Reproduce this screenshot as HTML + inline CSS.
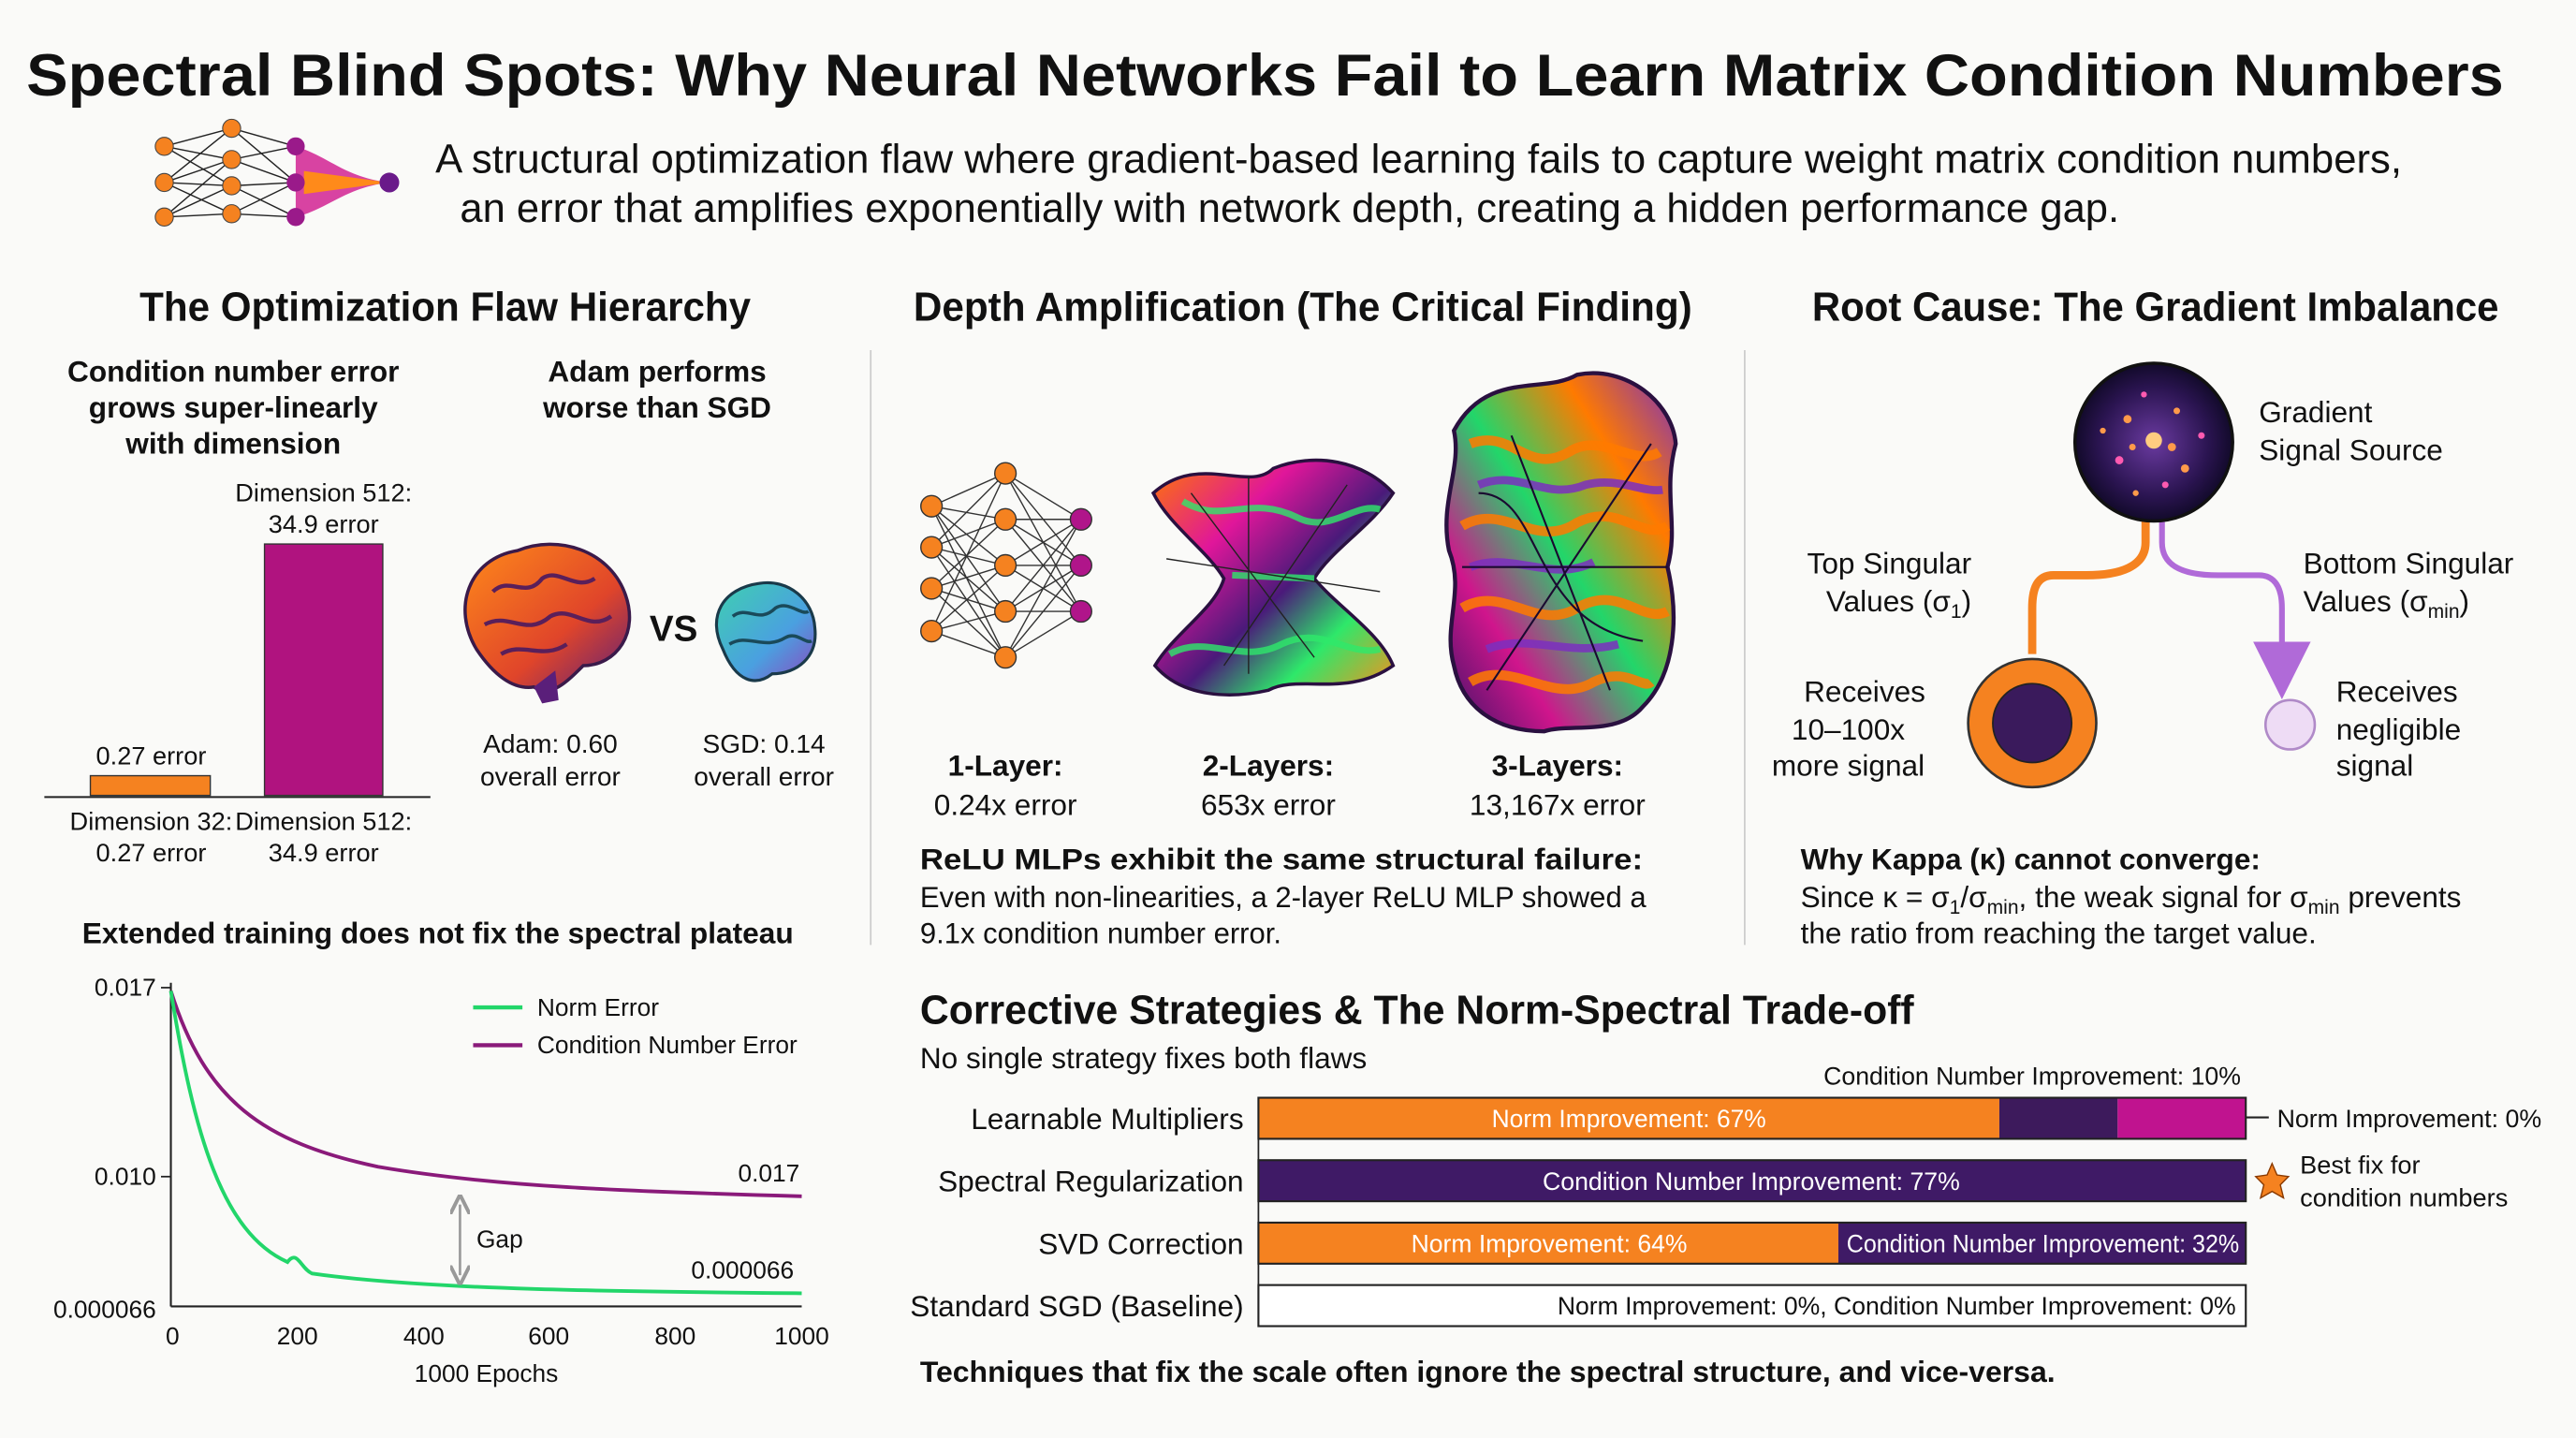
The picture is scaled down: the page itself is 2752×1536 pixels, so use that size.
<!DOCTYPE html>
<html><head><meta charset="utf-8"><style>
html,body{margin:0;padding:0;background:#fafaf8;}
svg{display:block;}
text{font-family:"Liberation Sans",Arial,sans-serif;fill:#111;}
text.w{fill:#fff;}
.b{font-weight:bold;}
</style></head><body>
<svg width="2752" height="1536" viewBox="0 0 1568 875" xmlns="http://www.w3.org/2000/svg">
<defs>
<linearGradient id="g1" x1="0" y1="0" x2="1" y2="1">
<stop offset="0" stop-color="#ff7a00"/><stop offset="0.3" stop-color="#e0169a"/><stop offset="0.55" stop-color="#4a1a7a"/><stop offset="0.75" stop-color="#2ee86a"/><stop offset="1" stop-color="#ff8c1a"/></linearGradient>
<linearGradient id="g2" x1="1" y1="0" x2="0" y2="1">
<stop offset="0" stop-color="#7b2fbf"/><stop offset="0.25" stop-color="#ff7a00"/><stop offset="0.5" stop-color="#22d66a"/><stop offset="0.75" stop-color="#d0158c"/><stop offset="1" stop-color="#3a1466"/></linearGradient>
<linearGradient id="brainA" x1="0" y1="0" x2="1" y2="1"><stop offset="0" stop-color="#ff8a1a"/><stop offset="0.6" stop-color="#e0452a"/><stop offset="1" stop-color="#5a1f7a"/></linearGradient>
<linearGradient id="brainB" x1="0" y1="0" x2="1" y2="1"><stop offset="0" stop-color="#3fd0b0"/><stop offset="0.6" stop-color="#4aa0e0"/><stop offset="1" stop-color="#8a4ac0"/></linearGradient>
<radialGradient id="src" cx="0.5" cy="0.5" r="0.5"><stop offset="0" stop-color="#6a3aa0"/><stop offset="0.7" stop-color="#2a1450"/><stop offset="1" stop-color="#120a2a"/></radialGradient>
<marker id="ap" markerWidth="10" markerHeight="10" refX="5" refY="5" orient="auto"><path d="M0,0 L10,5 L0,10 z" fill="#b06ad8"/></marker>
<marker id="ag" markerWidth="8" markerHeight="8" refX="4" refY="4" orient="auto-start-reverse"><path d="M0,0 L8,4 L0,8" fill="none" stroke="#999" stroke-width="1.5"/></marker>
</defs>
<rect width="1568" height="875" fill="#fafaf8"/>

<text x="16" y="58" class="b" font-size="36" textLength="1508" lengthAdjust="spacingAndGlyphs">Spectral Blind Spots: Why Neural Networks Fail to Learn Matrix Condition Numbers</text>
<text x="265" y="105" font-size="25" textLength="1197" lengthAdjust="spacingAndGlyphs">A structural optimization flaw where gradient-based learning fails to capture weight matrix condition numbers,</text>
<text x="280" y="135" font-size="25" textLength="1010" lengthAdjust="spacingAndGlyphs">an error that amplifies exponentially with network depth, creating a hidden performance gap.</text>

<g stroke="#222" stroke-width="0.8">
<path d="M100,89 L141,78 M100,89 L141,97 M100,89 L141,113 M100,111 L141,78 M100,111 L141,97 M100,111 L141,113 M100,111 L141,130 M100,132 L141,97 M100,132 L141,113 M100,132 L141,130 M141,78 L180,89 M141,97 L180,89 M141,97 L180,111 M141,113 L180,111 M141,113 L180,132 M141,130 L180,132 M141,78 L180,111 M141,130 L180,111"/>
</g>
<path d="M180,89 C200,95 210,108 237,111 C210,114 200,127 180,132 Z" fill="#d0158c" opacity="0.8"/>
<path d="M185,104 L237,111 L185,118 Z" fill="#ff8a1a"/>
<g fill="#f58220" stroke="#444" stroke-width="0.6">
<circle cx="100" cy="89" r="5.5"/><circle cx="100" cy="111" r="5.5"/><circle cx="100" cy="132" r="5.5"/>
<circle cx="141" cy="78" r="5.5"/><circle cx="141" cy="97" r="5.5"/><circle cx="141" cy="113" r="5.5"/><circle cx="141" cy="130" r="5.5"/>
</g>
<g fill="#9a1a8a"><circle cx="180" cy="89" r="5.5"/><circle cx="180" cy="111" r="5.5"/><circle cx="180" cy="132" r="5.5"/><circle cx="237" cy="111" r="6" fill="#6a1a8a"/></g>

<text x="85" y="195" class="b" font-size="25" textLength="372" lengthAdjust="spacingAndGlyphs">The Optimization Flaw Hierarchy</text>
<text x="556" y="195" class="b" font-size="25" textLength="474" lengthAdjust="spacingAndGlyphs">Depth Amplification (The Critical Finding)</text>
<text x="1103" y="195" class="b" font-size="25" textLength="418" lengthAdjust="spacingAndGlyphs">Root Cause: The Gradient Imbalance</text>
<line x1="530" y1="213" x2="530" y2="575" stroke="#ccc" stroke-width="1"/>
<line x1="1062" y1="213" x2="1062" y2="575" stroke="#ccc" stroke-width="1"/>

<g font-size="18" text-anchor="middle">
<text x="142" y="232" class="b">Condition number error</text>
<text x="142" y="254" class="b">grows super-linearly</text>
<text x="142" y="276" class="b">with dimension</text>
<text x="400" y="232" class="b">Adam performs</text>
<text x="400" y="254" class="b">worse than SGD</text>
</g>
<g font-size="15.5" text-anchor="middle">
<text x="197" y="305">Dimension 512:</text><text x="197" y="324">34.9 error</text>
<text x="92" y="465">0.27 error</text>
<text x="92" y="505">Dimension 32:</text><text x="92" y="524">0.27 error</text>
<text x="197" y="505">Dimension 512:</text><text x="197" y="524">34.9 error</text>
</g>
<rect x="55" y="472" width="73" height="12" fill="#f58220" stroke="#333" stroke-width="0.8"/>
<rect x="161" y="331" width="72" height="153" fill="#b0137f" stroke="#333" stroke-width="0.8"/>
<line x1="27" y1="485" x2="262" y2="485" stroke="#222" stroke-width="1.2"/>

<g>
<path d="M290,395 C275,370 285,340 315,335 C340,325 370,335 380,360 C390,385 375,405 355,405 C345,415 335,425 325,418 C312,420 300,410 290,395 Z" fill="url(#brainA)" stroke="#3a1a4a" stroke-width="2"/>
<path d="M300,360 C310,350 320,365 330,352 C340,345 350,360 362,352 M295,380 C310,372 320,388 335,375 C348,368 358,385 372,375 M305,398 C318,390 330,402 345,392" fill="none" stroke="#5a1f5a" stroke-width="2.5"/>
<path d="M325,418 L330,428 L340,426 L338,408" fill="#5a1f7a"/>
<text x="410" y="390" class="b" font-size="22" text-anchor="middle">VS</text>
<path d="M440,395 C430,375 440,358 462,355 C480,352 495,365 496,382 C498,400 485,410 470,410 C460,418 448,415 440,395 Z" fill="url(#brainB)" stroke="#1a3a4a" stroke-width="1.8"/>
<path d="M446,375 C455,368 462,380 472,370 C480,365 488,375 492,372 M444,392 C455,385 465,396 478,388 C485,384 490,392 494,390" fill="none" stroke="#1a4a5a" stroke-width="2"/>
</g>
<g font-size="16" text-anchor="middle">
<text x="335" y="458">Adam: 0.60</text><text x="335" y="478">overall error</text>
<text x="465" y="458">SGD: 0.14</text><text x="465" y="478">overall error</text>
</g>

<text x="50" y="574" class="b" font-size="18" textLength="433" lengthAdjust="spacingAndGlyphs">Extended training does not fix the spectral plateau</text>
<line x1="104" y1="598" x2="104" y2="795" stroke="#222" stroke-width="1.2"/>
<line x1="104" y1="795" x2="488" y2="795" stroke="#222" stroke-width="1.2"/>
<g font-size="15" text-anchor="end">
<text x="95" y="606">0.017</text><text x="95" y="721">0.010</text><text x="95" y="802">0.000066</text>
</g>
<line x1="98" y1="601" x2="104" y2="601" stroke="#222"/><line x1="98" y1="716" x2="104" y2="716" stroke="#222"/>
<g font-size="15" text-anchor="middle">
<text x="105" y="818">0</text><text x="181" y="818">200</text><text x="258" y="818">400</text><text x="334" y="818">600</text><text x="411" y="818">800</text><text x="488" y="818">1000</text>
<text x="296" y="841">1000 Epochs</text>
</g>
<line x1="288" y1="613" x2="318" y2="613" stroke="#22d66a" stroke-width="2.5"/>
<text x="327" y="618" font-size="15">Norm Error</text>
<line x1="288" y1="636" x2="318" y2="636" stroke="#8a1a7a" stroke-width="2.5"/>
<text x="327" y="641" font-size="15">Condition Number Error</text>
<path d="M104,603 C125,670 160,695 230,710 C300,722 380,725 488,728" fill="none" stroke="#8a1a7a" stroke-width="2.2"/>
<path d="M104,603 C118,690 135,750 175,768 C181,760 183,772 190,775 C260,785 380,786 488,787" fill="none" stroke="#22d66a" stroke-width="2.2"/>
<text x="468" y="719" font-size="15" text-anchor="middle">0.017</text>
<text x="452" y="778" font-size="15" text-anchor="middle">0.000066</text>
<line x1="280" y1="733" x2="280" y2="776" stroke="#999" stroke-width="1.5" marker-start="url(#ag)" marker-end="url(#ag)"/>
<text x="290" y="759" font-size="15">Gap</text>

<g stroke="#333" stroke-width="0.8">
<path d="M567,308 L612,288 M567,308 L612,316 M567,308 L612,344 M567,308 L612,372 M567,333 L612,288 M567,333 L612,316 M567,333 L612,344 M567,333 L612,372 M567,333 L612,400 M567,358 L612,316 M567,358 L612,344 M567,358 L612,372 M567,358 L612,400 M567,384 L612,344 M567,384 L612,372 M567,384 L612,400 M567,384 L612,288 M567,308 L612,400"/>
<path d="M612,288 L658,316 M612,288 L658,344 M612,316 L658,316 M612,316 L658,344 M612,316 L658,372 M612,344 L658,316 M612,344 L658,344 M612,344 L658,372 M612,372 L658,316 M612,372 L658,344 M612,372 L658,372 M612,400 L658,344 M612,400 L658,372 M612,288 L658,372 M612,400 L658,316"/>
</g>
<g fill="#f58220" stroke="#333" stroke-width="0.8">
<circle cx="567" cy="308" r="6.5"/><circle cx="567" cy="333" r="6.5"/><circle cx="567" cy="358" r="6.5"/><circle cx="567" cy="384" r="6.5"/>
<circle cx="612" cy="288" r="6.5"/><circle cx="612" cy="316" r="6.5"/><circle cx="612" cy="344" r="6.5"/><circle cx="612" cy="372" r="6.5"/><circle cx="612" cy="400" r="6.5"/>
</g>
<g fill="#b0158a" stroke="#333" stroke-width="0.8"><circle cx="658" cy="316" r="6.5"/><circle cx="658" cy="344" r="6.5"/><circle cx="658" cy="372" r="6.5"/></g>

<path d="M702,300 C730,275 760,300 775,285 C800,275 830,280 848,300 C835,320 810,335 800,352 C815,370 840,385 848,405 C820,425 790,410 772,420 C750,425 720,425 703,405 C715,385 740,370 745,352 C735,335 712,320 702,300 Z" fill="url(#g1)" stroke="#2a1040" stroke-width="2"/>
<path d="M720,305 C745,320 760,300 790,315 C810,325 825,305 840,310 M712,398 C735,385 755,405 780,392 C805,380 820,400 840,395 M750,350 L800,352" fill="none" stroke="#2ee86a" stroke-width="4" opacity="0.8"/>
<path d="M725,300 L800,400 M760,290 L760,410 M820,295 L745,405 M710,340 L840,360" stroke="#222" stroke-width="0.8"/>

<path d="M885,262 C905,225 940,240 960,228 C990,222 1018,245 1020,270 C1012,300 1022,320 1015,345 C1022,375 1020,410 1000,430 C985,448 955,440 940,445 C910,445 890,430 885,405 C878,380 892,360 882,335 C876,305 890,285 885,262 Z" fill="url(#g2)" stroke="#2a1040" stroke-width="2.5"/>
<path d="M895,270 C920,260 930,290 955,275 C975,262 995,285 1010,275 M890,320 C915,305 935,335 960,318 C985,305 1000,330 1015,320 M890,370 C915,355 935,385 960,370 C985,355 1000,380 1015,372 M895,415 C920,400 945,430 970,415 C990,405 1000,420 1005,415" fill="none" stroke="#ff7a00" stroke-width="6" opacity="0.85"/>
<path d="M900,295 C925,285 940,305 965,295 C985,290 1000,300 1012,298 M895,345 C920,335 945,355 970,342 M905,395 C930,385 955,400 985,392" fill="none" stroke="#7b2fbf" stroke-width="5" opacity="0.85"/>
<path d="M900,300 C940,300 930,380 1000,390 M920,265 L980,420 M1005,270 L905,420 M890,345 L1015,345" fill="none" stroke="#1a0a30" stroke-width="1.2"/>

<g font-size="18" text-anchor="middle">
<text x="612" y="472" class="b">1-Layer:</text><text x="612" y="496">0.24x error</text>
<text x="772" y="472" class="b">2-Layers:</text><text x="772" y="496">653x error</text>
<text x="948" y="472" class="b">3-Layers:</text><text x="948" y="496">13,167x error</text>
</g>
<text x="560" y="529" class="b" font-size="18" textLength="440" lengthAdjust="spacingAndGlyphs">ReLU MLPs exhibit the same structural failure:</text>
<text x="560" y="552" font-size="18" textLength="442" lengthAdjust="spacingAndGlyphs">Even with non-linearities, a 2-layer ReLU MLP showed a</text>
<text x="560" y="574" font-size="18" textLength="220" lengthAdjust="spacingAndGlyphs">9.1x condition number error.</text>

<path d="M1306,315 L1306,330 C1306,345 1290,350 1270,350 L1250,350 C1240,350 1237,358 1237,370 L1237,398" fill="none" stroke="#f58220" stroke-width="5"/>
<path d="M1316,315 L1316,330 C1316,345 1330,350 1350,350 L1375,350 C1385,350 1389,358 1389,370 L1389,408" fill="none" stroke="#b06ad8" stroke-width="3.5" marker-end="url(#ap)"/>
<circle cx="1311" cy="269" r="48" fill="url(#src)" stroke="#111" stroke-width="2"/>
<g fill="#ff9a4a">
<circle cx="1311" cy="268" r="5" fill="#ffcc80"/><circle cx="1295" cy="255" r="2.5"/><circle cx="1325" cy="250" r="2"/><circle cx="1290" cy="280" r="2.5" fill="#ff5ab0"/><circle cx="1330" cy="285" r="2.5"/><circle cx="1318" cy="295" r="2" fill="#ff5ab0"/><circle cx="1280" cy="262" r="1.8"/><circle cx="1340" cy="265" r="2" fill="#ff5ab0"/><circle cx="1305" cy="240" r="1.8" fill="#ff5ab0"/><circle cx="1300" cy="300" r="1.8"/><circle cx="1322" cy="272" r="2.5"/><circle cx="1298" cy="272" r="2"/>
</g>
<circle cx="1237" cy="440" r="39" fill="#f58220" stroke="#333" stroke-width="1.5"/>
<circle cx="1237" cy="440" r="24" fill="#3a1a5c" stroke="#222" stroke-width="1"/>
<circle cx="1394" cy="441" r="15" fill="#eedcf5" stroke="#b08ac8" stroke-width="1.5"/>
<g font-size="18">
<text x="1375" y="257">Gradient</text><text x="1375" y="280">Signal Source</text>
<text x="1200" y="349" text-anchor="end">Top Singular</text>
<text x="1200" y="372" text-anchor="end">Values (σ<tspan font-size="12" dy="4">1</tspan><tspan dy="-4">)</tspan></text>
<text x="1135" y="427" text-anchor="middle">Receives</text><text x="1125" y="450" text-anchor="middle">10–100x</text><text x="1125" y="472" text-anchor="middle">more signal</text>
<text x="1402" y="349">Bottom Singular</text>
<text x="1402" y="372">Values (σ<tspan font-size="12" dy="4">min</tspan><tspan dy="-4">)</tspan></text>
<text x="1422" y="427">Receives</text><text x="1422" y="450">negligible</text><text x="1422" y="472">signal</text>
</g>
<text x="1096" y="529" class="b" font-size="18">Why Kappa (κ) cannot converge:</text>
<text x="1096" y="552" font-size="18">Since κ = σ<tspan font-size="12" dy="4">1</tspan><tspan dy="-4">/σ</tspan><tspan font-size="12" dy="4">min</tspan><tspan dy="-4">, the weak signal for σ</tspan><tspan font-size="12" dy="4">min</tspan><tspan dy="-4"> prevents</tspan></text>
<text x="1096" y="574" font-size="18">the ratio from reaching the target value.</text>

<text x="560" y="623" class="b" font-size="25" textLength="605" lengthAdjust="spacingAndGlyphs">Corrective Strategies &amp; The Norm-Spectral Trade-off</text>
<text x="560" y="650" font-size="18">No single strategy fixes both flaws</text>
<text x="1110" y="660" font-size="15.5" textLength="254" lengthAdjust="spacingAndGlyphs">Condition Number Improvement: 10%</text>
<g font-size="18" text-anchor="end">
<text x="757" y="687">Learnable Multipliers</text>
<text x="757" y="725">Spectral Regularization</text>
<text x="757" y="763">SVD Correction</text>
<text x="757" y="801">Standard SGD (Baseline)</text>
</g>
<line x1="766" y1="668" x2="766" y2="806" stroke="#222" stroke-width="1"/>
<rect x="766" y="668" width="451" height="25" fill="#f58220"/>
<rect x="1217" y="668" width="72" height="25" fill="#3d1a5c"/>
<rect x="1289" y="668" width="78" height="25" fill="#c0138f"/>
<rect x="766" y="668" width="601" height="25" fill="none" stroke="#222" stroke-width="1.2"/>
<line x1="1367" y1="680" x2="1381" y2="680" stroke="#222" stroke-width="1.2"/>
<text x="1386" y="686" font-size="15.5" textLength="161" lengthAdjust="spacingAndGlyphs">Norm Improvement: 0%</text>
<rect x="766" y="706" width="601" height="25" fill="#3f1a66" stroke="#222" stroke-width="1.2"/>
<rect x="766" y="744" width="353" height="25" fill="#f58220"/>
<rect x="1119" y="744" width="248" height="25" fill="#3f1a66"/>
<rect x="766" y="744" width="601" height="25" fill="none" stroke="#222" stroke-width="1.2"/>
<rect x="766" y="782" width="601" height="25" fill="#fff" stroke="#222" stroke-width="1.2"/>
<text class="w" x="908" y="686" font-size="15.5" textLength="167" lengthAdjust="spacingAndGlyphs">Norm Improvement: 67%</text>
<text class="w" x="939" y="724" font-size="15.5" textLength="254" lengthAdjust="spacingAndGlyphs">Condition Number Improvement: 77%</text>
<text class="w" x="859" y="762" font-size="15.5" textLength="168" lengthAdjust="spacingAndGlyphs">Norm Improvement: 64%</text>
<text class="w" x="1124" y="762" font-size="15.5" textLength="239" lengthAdjust="spacingAndGlyphs">Condition Number Improvement: 32%</text>
<text x="948" y="800" font-size="15.5" textLength="413" lengthAdjust="spacingAndGlyphs">Norm Improvement: 0%, Condition Number Improvement: 0%</text>
<path d="M1383,708 L1386,715 L1393,716 L1388,721 L1390,729 L1383,725 L1376,729 L1378,721 L1373,716 L1380,715 Z" fill="#f58220" stroke="#8a3a00" stroke-width="0.8"/>
<text x="1400" y="714" font-size="15.5">Best fix for</text>
<text x="1400" y="734" font-size="15.5">condition numbers</text>
<text x="560" y="841" class="b" font-size="18" textLength="691" lengthAdjust="spacingAndGlyphs">Techniques that fix the scale often ignore the spectral structure, and vice-versa.</text>
</svg>
</body></html>
